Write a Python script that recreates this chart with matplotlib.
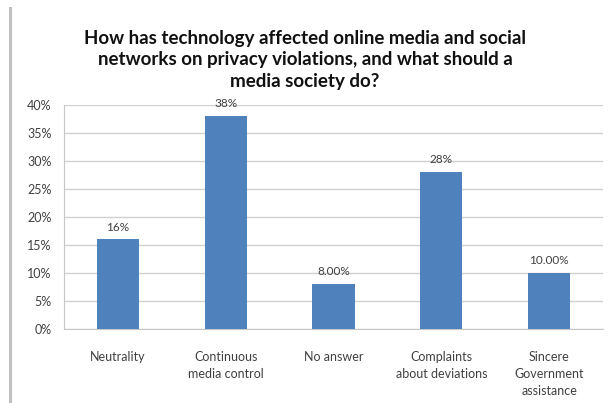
import matplotlib
matplotlib.use("Agg")
from matplotlib import pyplot as plt
from matplotlib.ticker import PercentFormatter

categories = ["Neutrality", "Continuous\nmedia control", "No answer",
              "Complaints\nabout deviations", "Sincere\nGovernment\nassistance"]
values = [16, 38, 8, 28, 10]
labels = ["16%", "38%", "8.00%", "28%", "10.00%"]

plt.rcParams['font.family'] = ['Lato', 'DejaVu Sans']

fig = plt.figure(figsize=(6.10, 4.03), dpi=100)
ax = fig.add_axes([64/610, 1 - 329/403, (603-64)/610, (329-105)/403])

x = range(len(categories))
bars = ax.bar(x, values, width=0.39, color='#4f81bd', zorder=3)
for b, lab in zip(bars, labels):
    ax.text(b.get_x() + b.get_width()/2, b.get_height() + 1.2, lab,
            ha='center', va='bottom', fontsize=8.5, color='#404040')

ax.set_xlim(-0.5, len(categories) - 0.5)
ax.set_ylim(0, 40)
ax.set_yticks(range(0, 41, 5))
ax.yaxis.set_major_formatter(PercentFormatter(decimals=0))
ax.set_xticks(list(x))
ax.set_xticklabels(categories, fontsize=9, color='#404040', linespacing=1.5)
ax.tick_params(axis='y', labelsize=9, labelcolor='#404040', length=0, pad=9)
ax.tick_params(axis='x', length=0, pad=16)
ax.grid(axis='y', color='#d0d0d0', linewidth=1.0, zorder=0)
for s in ['top', 'right']:
    ax.spines[s].set_visible(False)
ax.spines['left'].set_color('#c8c8c8')
ax.spines['bottom'].set_color('#c8c8c8')

fig.text(0.5, 1 - 60/403, "How has technology affected online media and social\n"
         "networks on privacy violations, and what should a\nmedia society do?",
         ha='center', va='center', fontsize=13.5, fontweight='bold',
         color='#111111', linespacing=1.3)

fig.add_artist(plt.Line2D([9.5/610, 9.5/610], [0, 1 - 8/403], color='#c0c0c0', linewidth=2.2))

fig.savefig("out.png", dpi=100)
